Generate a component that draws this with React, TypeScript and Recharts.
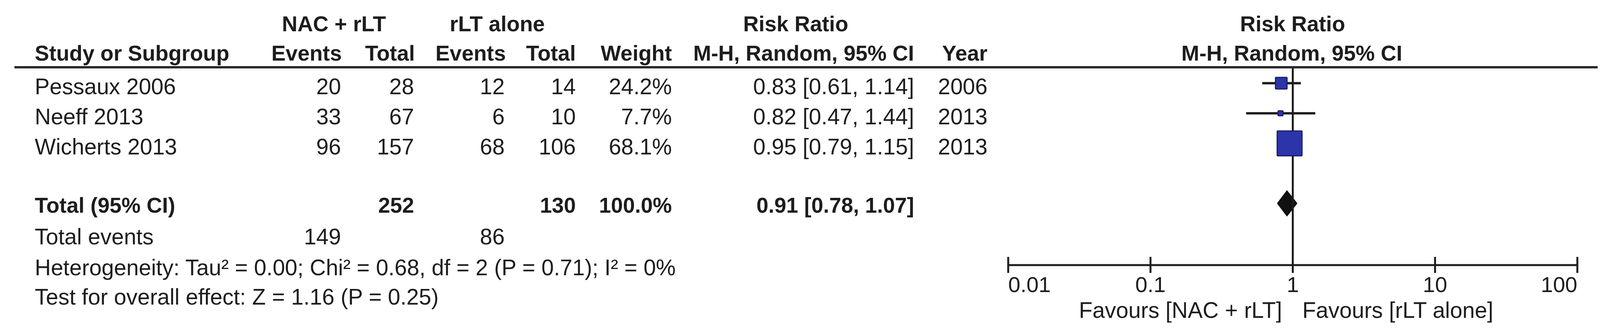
import React from "react";
import { Area, ComposedChart, ErrorBar, ReferenceLine, Scatter, XAxis, YAxis } from "recharts";

// study rows
const studies = ["Pessaux 2006", "Neeff 2013", "Wicherts 2013"];
const nacEvents = [20, 33, 96];
const nacTotal = [28, 67, 157];
const rltEvents = [12, 6, 68];
const rltTotal = [14, 10, 106];
const weights = [24.2, 7.7, 68.1];
const ratios = [0.83, 0.82, 0.95];
const lowerCI = [0.61, 0.47, 0.79];
const upperCI = [1.14, 1.44, 1.15];
const years = [2006, 2013, 2013];

// pooled result
const totalLabel = "Total (95% CI)";
const totalNac = 252;
const totalRlt = 130;
const totalWeight = 100.0;
const pooledRatio = 0.91;
const pooledLower = 0.78;
const pooledUpper = 1.07;
const totalEventsNac = 149;
const totalEventsRlt = 86;
const heterogeneityText = "Heterogeneity: Tau² = 0.00; Chi² = 0.68, df = 2 (P = 0.71); I² = 0%";
const overallEffectText = "Test for overall effect: Z = 1.16 (P = 0.25)";

const axisTicks = [0.01, 0.1, 1, 10, 100];
const favoursLeft = "Favours [NAC + rLT]";
const favoursRight = "Favours [rLT alone]";

const W = 4124;
const H = 844;
const PLOT_LEFT = 2581;
const PLOT_RIGHT = 4038;
const PLOT_TOP = 172;
const PLOT_BOTTOM = 678;
const AXIS_H = 100;
const Y_MAX = 6.57;
const ROW_PX = (PLOT_BOTTOM - PLOT_TOP) / Y_MAX;
const DIAMOND_HALF = 0.42;

const FONT = '"Liberation Sans", Arial, sans-serif';
const INK = "#1d1d1d";
const BODY = 57;
const HEAD = 55;

const studyPos = studies.map((_, i) => i + 0.53);
const totalPos = studies.length + 1.52;
const rowY = (p: number) => PLOT_TOP + p * ROW_PX;
const maxWeight = Math.max(...weights);

const studyData = studies.map((name, i) => ({
  name,
  x: ratios[i],
  y: studyPos[i],
  weight: weights[i],
  ci: [ratios[i] - lowerCI[i], upperCI[i] - ratios[i]],
}));

const diamondData = [
  { x: pooledLower, band: [totalPos, totalPos] },
  { x: pooledRatio, band: [totalPos - DIAMOND_HALF, totalPos + DIAMOND_HALF] },
  { x: pooledUpper, band: [totalPos, totalPos] },
];

const fmt2 = (v: number) => v.toFixed(2);
const ciText = (r: number, lo: number, hi: number) => `${fmt2(r)} [${fmt2(lo)}, ${fmt2(hi)}]`;

function StudySquare(props: any) {
  const { cx, cy, payload } = props;
  const side = 64 * Math.pow(payload.weight / maxWeight, 0.734);
  return (
    <rect
      x={cx - side / 2}
      y={cy - side / 2}
      width={side}
      height={side}
      rx={2}
      fill="#2b34a8"
      stroke="#161a5a"
      strokeWidth={2.5}
    />
  );
}

function LogTick(props: any) {
  const { x, y, payload, index } = props;
  const anchor = index === 0 ? "start" : index === axisTicks.length - 1 ? "end" : "middle";
  return (
    <g>
      <line x1={x} x2={x} y1={y - 21} y2={y + 20} stroke={INK} strokeWidth={5} />
      <text x={x} y={y + 69} textAnchor={anchor} fontFamily={FONT} fontSize={56} fill={INK}>
        {String(payload.value)}
      </text>
    </g>
  );
}

function T(props: { x: number; y: number; anchor?: "start" | "middle" | "end"; bold?: boolean; children: React.ReactNode }) {
  return (
    <text
      x={props.x}
      y={props.y}
      textAnchor={props.anchor ?? "end"}
      fontFamily={FONT}
      fontSize={props.bold ? HEAD : BODY}
      fontWeight={props.bold ? 700 : 400}
      fill={INK}
    >
      {props.children}
    </text>
  );
}

// column right edges of the table
const COL = { study: 89, ev1: 873, tot1: 1060, ev2: 1292, tot2: 1474, weight: 1720, rr: 2340, year: 2528 };

function Table() {
  const h1 = 80;
  const h2 = 155;
  const totalY = 544;
  return (
    <svg width={W} height={H} style={{ position: "absolute", left: 0, top: 0 }}>
      <T x={855} y={h1} anchor="middle" bold>NAC + rLT</T>
      <T x={1273} y={h1} anchor="middle" bold>rLT alone</T>
      <T x={2037} y={h1} anchor="middle" bold>Risk Ratio</T>
      <T x={3309} y={h1} anchor="middle" bold>Risk Ratio</T>

      <T x={COL.study} y={h2} anchor="start" bold>Study or Subgroup</T>
      <T x={875} y={h2} bold>Events</T>
      <T x={1062} y={h2} bold>Total</T>
      <T x={1295} y={h2} bold>Events</T>
      <T x={COL.tot2} y={h2} bold>Total</T>
      <T x={COL.weight} y={h2} bold>Weight</T>
      <T x={COL.rr} y={h2} bold>M-H, Random, 95% CI</T>
      <T x={COL.year} y={h2} bold>Year</T>
      <T x={3307} y={h2} anchor="middle" bold>M-H, Random, 95% CI</T>

      <line x1={37} x2={4090} y1={PLOT_TOP} y2={PLOT_TOP} stroke="#2a2a2a" strokeWidth={6} />

      {studies.map((name, i) => {
        const y = rowY(studyPos[i]) + 28;
        return (
          <g key={name}>
            <T x={COL.study} y={y} anchor="start">{name}</T>
            <T x={COL.ev1} y={y}>{nacEvents[i]}</T>
            <T x={COL.tot1} y={y}>{nacTotal[i]}</T>
            <T x={COL.ev2} y={y}>{rltEvents[i]}</T>
            <T x={COL.tot2} y={y}>{rltTotal[i]}</T>
            <T x={COL.weight} y={y}>{`${weights[i].toFixed(1)}%`}</T>
            <T x={COL.rr} y={y}>{ciText(ratios[i], lowerCI[i], upperCI[i])}</T>
            <T x={COL.year} y={y}>{years[i]}</T>
          </g>
        );
      })}

      <T x={COL.study} y={totalY} anchor="start" bold>{totalLabel}</T>
      <T x={COL.tot1} y={totalY} bold>{totalNac}</T>
      <T x={COL.tot2} y={totalY} bold>{totalRlt}</T>
      <T x={COL.weight} y={totalY} bold>{`${totalWeight.toFixed(1)}%`}</T>
      <T x={COL.rr} y={totalY} bold>{ciText(pooledRatio, pooledLower, pooledUpper)}</T>

      <T x={COL.study} y={625} anchor="start">Total events</T>
      <T x={COL.ev1} y={625}>{totalEventsNac}</T>
      <T x={COL.ev2} y={625}>{totalEventsRlt}</T>
      <T x={COL.study} y={704} anchor="start">{heterogeneityText}</T>
      <T x={COL.study} y={779} anchor="start">{overallEffectText}</T>

      <T x={3282} y={813}>{favoursLeft}</T>
      <T x={3334} y={813} anchor="start">{favoursRight}</T>
    </svg>
  );
}

export default function App() {
  return (
    <div style={{ position: "absolute", left: 0, top: 0, width: W, height: H, background: "#fff" }}>
      <div style={{ position: "absolute", left: 0, top: 0 }}>
        <ComposedChart
          width={W}
          height={H}
          margin={{ top: PLOT_TOP, right: W - PLOT_RIGHT, bottom: H - PLOT_BOTTOM - AXIS_H, left: PLOT_LEFT }}
        >
          <XAxis
            type="number"
            dataKey="x"
            scale="log"
            domain={[0.01, 100]}
            ticks={axisTicks}
            interval={0}
            allowDataOverflow
            height={AXIS_H}
            tickSize={0}
            tickMargin={0}
            tickLine={false}
            axisLine={{ stroke: INK, strokeWidth: 5 }}
            tick={<LogTick />}
          />
          <YAxis type="number" dataKey="y" domain={[0, Y_MAX]} reversed hide allowDataOverflow />
          <ReferenceLine x={1} stroke={INK} strokeWidth={5} />
          <Area
            data={diamondData}
            dataKey="band"
            type="linear"
            fill="#111"
            fillOpacity={1}
            stroke="#111"
            strokeWidth={2}
            dot={false}
            activeDot={false}
            isAnimationActive={false}
          />
          <Scatter data={studyData} shape={StudySquare} isAnimationActive={false}>
            <ErrorBar dataKey="ci" direction="x" width={0} stroke={INK} strokeWidth={6} isAnimationActive={false} />
          </Scatter>
        </ComposedChart>
      </div>
      <Table />
    </div>
  );
}
